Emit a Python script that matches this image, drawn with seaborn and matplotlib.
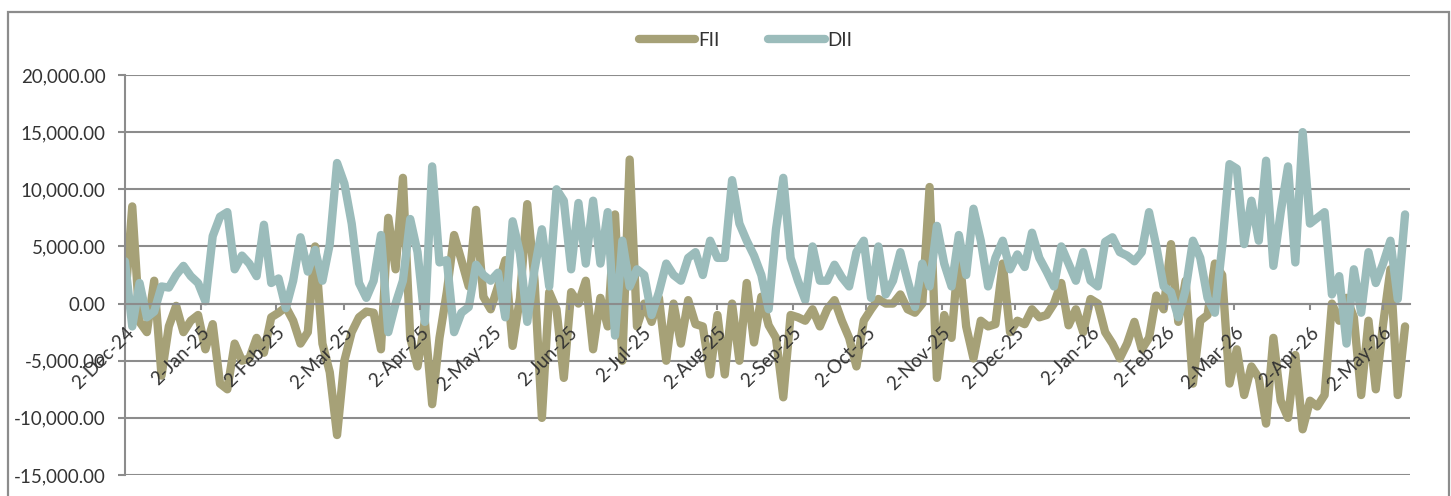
import pandas as pd
import matplotlib
matplotlib.use('Agg')
import matplotlib.pyplot as plt
import matplotlib.dates as mdates
from matplotlib.patches import Rectangle
from matplotlib.ticker import FuncFormatter, MultipleLocator
import seaborn as sns

# data: net flows, one value every 3 days
start_date = '2024-12-02'
n_points = 176

fii = [0, 8500, -1600, -2500, 2000, -6300, -2000, -200, -2500, -1500,
       -1000, -4000, -1800, -7000, -7500, -3500, -5000, -4800, -3000, -4300,
       -1200, -800, -300, -1500, -3500, -2500, 5000, -3500, -6000, -11500,
       -5000, -2500, -1200, -700, -800, -4000, 7500, 3000, 11000, -3000,
       -5500, -1500, -8800, -3000, 1000, 6000, 3800, 1500, 8200, 600,
       -500, 1500, 3800, -3700, 500, 8700, 2000, -10000, 1000, -500,
       -6500, 1000, 0, 2000, -4000, 500, -2000, 7800, -5000, 12600,
       -2000, 0, -1600, 500, -5000, 0, -3500, 300, -1800, -2000,
       -6200, -1000, -6200, 0, -5000, 1800, -3400, 600, -1900, -3000,
       -8200, -1000, -1200, -1500, -500, -2000, -500, 300, -1500, -3000,
       -5500, -1500, -500, 400, 0, 0, 800, -500, -800, 0,
       10200, -6500, -1000, -3000, 4700, -2000, -4800, -1500, -2000, -1800,
       3500, -2500, -1500, -1800, -500, -1200, -1000, 0, 1800, -1900,
       -500, -2500, 400, 0, -2500, -3500, -4800, -3500, -1600, -4000,
       -3000, 700, -500, 5200, -1600, 2000, -7000, -1500, -1000, 3500,
       2500, -7000, -4000, -8000, -5500, -6500, -10500, -3000, -8500, -10000,
       -4500, -11000, -8500, -9000, -8000, 0, -1500, 500, -1200, -8000,
       -1500, -7500, -1800, 3000, -8000, -2000]

dii = [3700, -2000, 1800, -1200, -700, 1500, 1400, 2500, 3300, 2400,
       1800, 200, 5900, 7600, 8000, 3000, 4200, 3500, 2400, 6900,
       1800, 2200, -400, 2000, 5800, 2800, 4700, 2000, 5200, 12300,
       10500, 7000, 1800, 500, 2000, 6000, -2500, 0, 2000, 7400,
       4500, -1600, 12000, 3600, 3800, -2500, -800, -300, 3400, 2500,
       2000, 2700, -1200, 7200, 4400, -1600, 3000, 6500, 1500, 10000,
       9000, 3000, 8800, 3500, 9000, 3500, 8000, -2800, 5500, 1500,
       3000, 2500, -1000, 1000, 3500, 2500, 2000, 4000, 4500, 2500,
       5500, 4000, 4000, 10800, 7000, 5500, 4200, 2500, -500, 6500,
       11000, 4000, 2000, 300, 5000, 2000, 2000, 3400, 2300, 1500,
       4500, 5500, 500, 5000, 800, 2000, 4500, 2000, -300, 3500,
       1500, 6800, 3500, 1500, 6000, 2500, 8300, 5500, 1500, 4000,
       5500, 3000, 4300, 3200, 6200, 4000, 2800, 1500, 5000, 3500,
       2000, 4500, 2000, 1500, 5400, 5800, 4500, 4200, 3700, 4500,
       8000, 5000, 1500, 1000, -1200, 1200, 5500, 4000, 500, -800,
       5000, 12200, 11800, 5200, 9000, 5500, 12500, 3300, 8000, 12000,
       3600, 15000, 7000, 7500, 8000, 800, 2400, -3500, 3000, -800,
       4500, 1800, 3500, 5500, 400, 7800]

dates = pd.date_range(start_date, periods=n_points, freq='3D')
flows = pd.DataFrame({'date': dates, 'FII': fii, 'DII': dii})
flows = flows.melt(id_vars='date', var_name='series', value_name='value')

# style
grid_grey = '#8c8c8c'
text_col = '#333333'
font_size = 13.5
line_w = 6.0
palette = {'FII': '#a6a177', 'DII': '#9bbcbb'}

sns.set_style('white')
plt.rcParams['font.family'] = ['Lato', 'DejaVu Sans']

fig = plt.figure(figsize=(14.51, 4.96), dpi=100)
ax = fig.add_axes([0.0861, 0.0423, 0.9717 - 0.0861, 0.8065])

## outer chart border
fig.patches.append(Rectangle((0.0055, -0.1), 0.9931, 1.0758, transform=fig.transFigure,
                             fill=False, edgecolor=grid_grey, linewidth=1.6))

## gridlines by hand so the axis labels can sit over the lines
for yv in range(-15000, 20001, 5000):
    ax.axhline(yv, color=grid_grey, linewidth=1.5, zorder=0.5)

sns.lineplot(data=flows, x='date', y='value', hue='series', palette=palette,
             linewidth=line_w, ax=ax, legend=False, zorder=2,
             solid_capstyle='round', solid_joinstyle='round')
ax.set_axisbelow(False)

ax.set_ylim(-15000, 20000)
ax.yaxis.set_major_locator(MultipleLocator(5000))
ax.yaxis.set_major_formatter(FuncFormatter(lambda v, p: f'{v:,.2f}'))
ax.set_xlim(dates[0], dates[-1] + pd.Timedelta(days=2))
ax.xaxis.set_major_locator(mdates.MonthLocator(bymonthday=2))
ax.xaxis.set_major_formatter(mdates.DateFormatter('%-d-%b-%y'))

for side in ['top', 'right']:
    ax.spines[side].set_visible(False)
ax.spines['bottom'].set_position(('data', 0))
ax.spines['bottom'].set_color(grid_grey)
ax.spines['bottom'].set_linewidth(1.5)
ax.spines['left'].set_color(grid_grey)
ax.spines['left'].set_linewidth(1.5)

ax.tick_params(axis='y', which='major', left=True, length=5, width=1.5, color=grid_grey,
               pad=9, labelsize=font_size, labelcolor=text_col)
ax.tick_params(axis='x', which='major', bottom=True, length=4.5, width=1.5, color=grid_grey,
               pad=10, labelsize=font_size, labelcolor=text_col)
for lab in ax.get_xticklabels():
    lab.set_rotation(45)
    lab.set_ha('right')
    lab.set_va('top')
    lab.set_rotation_mode('anchor')

ax.set_xlabel('')
ax.set_ylabel('')

## legend at the top
handles = [plt.Line2D([], [], color=palette[k], linewidth=line_w, solid_capstyle='round')
           for k in ['FII', 'DII']]
fig.legend(handles, ['FII', 'DII'], loc='center', bbox_to_anchor=(0.514, 0.919),
           ncol=2, frameon=False, fontsize=font_size, handlelength=3.0,
           handletextpad=0.15, columnspacing=2.6, labelcolor=text_col)

plt.savefig('out.png', dpi=100)
